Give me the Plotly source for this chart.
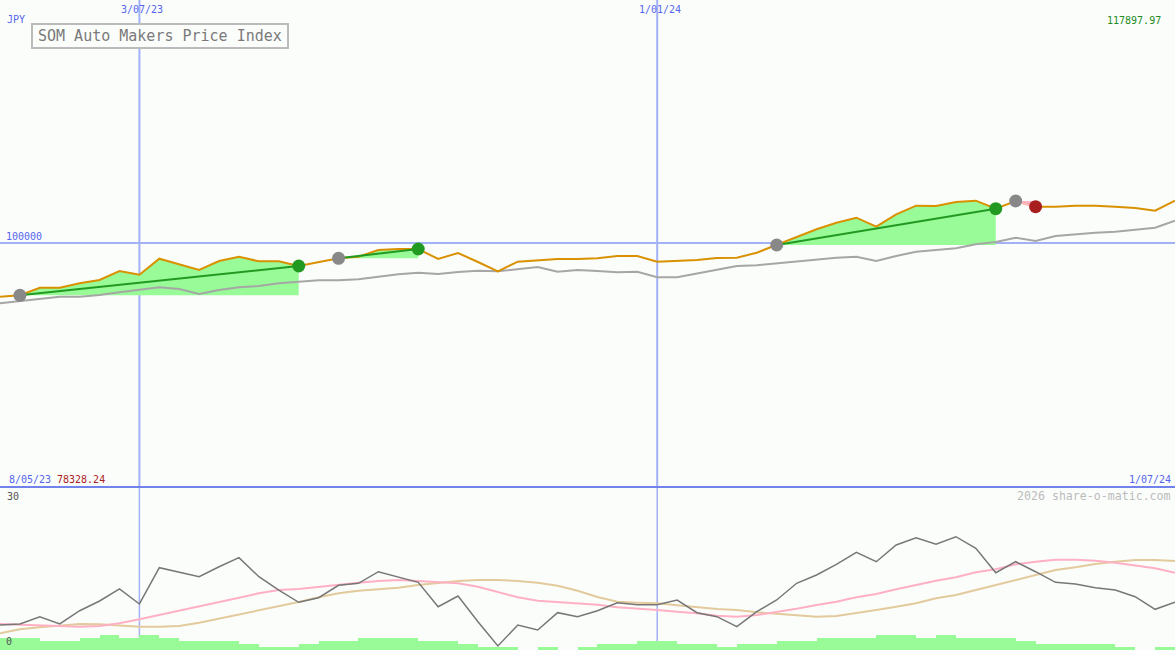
import pandas as pd
import plotly.graph_objects as go

W, H = 1175, 650
BG = "#FBFDFB"
BLUE_TXT = "#5566EE"
GRID = "#A3B1F7"
MONO = "DejaVu Sans Mono"

# ---------------- data ----------------
dates = list(pd.date_range("2023-05-15", periods=60, freq="7D"))

price = [95231, 95355, 96030, 96030, 96421, 96714, 97514, 97185, 98606, 98136,
         97603, 98402, 98784, 98375, 98375, 97958, 98286, 98642, 98784, 99379,
         99468, 99468, 98580, 99113, 98313, 97487, 98340, 98429, 98580, 98580,
         98642, 98846, 98846, 98340, 98429, 98491, 98668, 98695, 99139, 99823,
         100560, 101218, 101804, 102248, 101449, 102550, 103314, 103287, 103642, 103758,
         103047, 103731, 103225, 103225, 103314, 103314, 103225, 103109, 102870, 103758]

avg = [94645, 94849, 95089, 95231, 95231, 95382, 95622, 95826, 96066, 95915,
       95471, 95826, 96066, 96181, 96421, 96563, 96688, 96688, 96777, 97007,
       97221, 97363, 97247, 97425, 97540, 97487, 97665, 97869, 97451, 97603,
       97514, 97398, 97451, 96954, 96954, 97309, 97665, 97958, 98020, 98197,
       98340, 98553, 98695, 98784, 98402, 98846, 99228, 99379, 99530, 99885,
       100090, 100471, 100178, 100622, 100773, 100916, 101004, 101155, 101360, 101981]

trade_entry = [1, 17, 39, 51]
trade_exit = [15, 21, 50, 52]

osc_fast = [4.60, 4.79, 6.13, 4.79, 7.23, 9.02, 11.23, 8.47, 15.15, 14.30,
            13.49, 15.33, 16.99, 13.49, 11.04, 8.78, 9.63, 11.91, 12.28, 14.41,
            13.49, 12.46, 7.97, 9.94, 5.21, 0.74, 4.60, 3.68, 6.87, 6.13,
            7.23, 8.71, 8.34, 8.34, 9.20, 6.87, 6.13, 4.29, 7.05, 9.20,
            12.28, 13.80, 15.77, 17.98, 16.25, 19.33, 20.67, 19.45, 20.85, 18.72,
            14.23, 16.25, 14.41, 12.46, 12.15, 11.47, 11.04, 9.81, 7.49, 8.78]

osc_mid = [4.79, 4.69, 4.60, 4.42, 4.29, 4.42, 4.91, 5.65, 6.44, 7.23,
           7.97, 8.71, 9.63, 10.44, 11.04, 11.23, 11.65, 11.96, 12.39, 12.70,
           12.88, 12.70, 12.46, 12.28, 11.65, 10.73, 9.70, 9.07, 8.83, 8.47,
           8.34, 7.86, 7.67, 7.36, 7.05, 6.75, 6.31, 6.13, 6.44, 6.99,
           7.60, 8.28, 8.89, 9.70, 10.31, 11.17, 11.96, 12.75, 13.38, 14.30,
           14.85, 15.77, 16.25, 16.62, 16.62, 16.44, 16.07, 15.52, 15.04, 14.23]

osc_slow = [3.07, 3.81, 4.18, 4.42, 4.79, 4.73, 4.55, 4.29, 4.29, 4.42,
            5.02, 5.76, 6.57, 7.36, 8.10, 8.83, 9.70, 10.44, 10.91, 11.17,
            11.47, 11.96, 12.39, 12.70, 12.88, 12.88, 12.70, 12.39, 11.83, 10.91,
            9.75, 8.89, 8.71, 8.60, 8.23, 7.86, 7.55, 7.36, 6.94, 6.68,
            6.44, 6.13, 6.26, 6.75, 7.36, 7.97, 8.60, 9.52, 10.12, 11.04,
            11.96, 12.88, 13.93, 14.72, 15.22, 15.83, 16.25, 16.56, 16.56, 16.38]

volume_level = [4, 4, 3, 3, 4, 5, 4, 5, 4, 3,
                3, 3, 2, 1, 1, 2, 3, 3, 4, 4,
                4, 3, 3, 2, 1, 1, 0, 1, 0, 1,
                2, 2, 3, 3, 2, 2, 1, 2, 2, 3,
                3, 4, 4, 4, 5, 5, 4, 5, 4, 4,
                4, 3, 2, 2, 2, 2, 1, 0, 1]

grid_dates = ["2023-07-03", "2024-01-01"]
grid_labels = ["3/07/23", "1/01/24"]
grid_level = 100000
axis_top_label = "117897.97"
axis_bottom_label = "78328.24"
first_date_label = "8/05/23"
last_date_label = "1/07/24"
osc_max_label = "30"
osc_min_label = "0"

# ---------------- figure ----------------
fig = go.Figure()

# trade fills
for e, x_ in zip(trade_entry, trade_exit):
    win = price[x_] >= price[e]
    xs = dates[e:x_ + 1] + [dates[x_], dates[e]]
    ys = price[e:x_ + 1] + [price[e], price[e]]
    fig.add_trace(go.Scatter(x=xs, y=ys, mode="lines", fill="toself",
                             fillcolor="#98FB98" if win else "#FFB6C8",
                             line=dict(width=0), hoverinfo="skip", showlegend=False))

fig.add_trace(go.Scatter(x=dates, y=avg, mode="lines",
                         line=dict(color="#A6A6A6", width=2), showlegend=False))
fig.add_trace(go.Scatter(x=dates, y=price, mode="lines",
                         line=dict(color="#D99100", width=2), showlegend=False))

for e, x_ in zip(trade_entry, trade_exit):
    win = price[x_] >= price[e]
    fig.add_trace(go.Scatter(x=[dates[e], dates[x_]], y=[price[e], price[x_]], mode="lines",
                             line=dict(color="#229A22" if win else "#FFB6C8", width=2),
                             showlegend=False))
for e, x_ in zip(trade_entry, trade_exit):
    win = price[x_] >= price[e]
    fig.add_trace(go.Scatter(x=[dates[e]], y=[price[e]], mode="markers",
                             marker=dict(color="#888888", size=13), showlegend=False))
    fig.add_trace(go.Scatter(x=[dates[x_]], y=[price[x_]], mode="markers",
                             marker=dict(color="#229A22" if win else "#A81E1E", size=13),
                             showlegend=False))

# lower panel
fig.add_trace(go.Bar(x=dates[:len(volume_level)], y=volume_level, yaxis="y3",
                     offset=0, width=7 * 86400000,
                     marker=dict(color="#98FB98", line=dict(width=0)),
                     showlegend=False))
fig.add_trace(go.Scatter(x=dates, y=osc_slow, yaxis="y2", mode="lines",
                         line=dict(color="#E3CA9C", width=2), showlegend=False))
fig.add_trace(go.Scatter(x=dates, y=osc_mid, yaxis="y2", mode="lines",
                         line=dict(color="#FFB0C4", width=2), showlegend=False))
fig.add_trace(go.Scatter(x=dates, y=osc_fast, yaxis="y2", mode="lines",
                         line=dict(color="#777777", width=1.5), showlegend=False))

low_frac = (H - 487) / H


def px(xp):
    return xp / W


def py(yp):
    return 1 - yp / H


shapes = []
for d in grid_dates:
    shapes.append(dict(type="line", xref="x", yref="paper", x0=d, x1=d, y0=low_frac, y1=1,
                       line=dict(color=GRID, width=2), layer="below"))
    shapes.append(dict(type="line", xref="x", yref="paper", x0=d, x1=d, y0=0, y1=low_frac,
                       line=dict(color=GRID, width=1.5), layer="below"))
shapes.append(dict(type="line", xref="paper", yref="y", x0=0, x1=1, y0=grid_level, y1=grid_level,
                   line=dict(color=GRID, width=2), layer="below"))
shapes.append(dict(type="line", xref="paper", yref="paper", x0=0, x1=1, y0=low_frac, y1=low_frac,
                   line=dict(color="#7282EC", width=2), layer="above"))
shapes.append(dict(type="rect", xref="paper", yref="paper", x0=px(32), x1=px(288), y0=py(48), y1=py(24),
                   line=dict(color="#BBBBBB", width=2), fillcolor=BG, layer="above"))


def txt(text, xp, yp, color, size=10, anchor="left", **kw):
    d = dict(text=text, xref="paper", yref="paper", x=px(xp), y=py(yp), xanchor=anchor,
             yanchor="middle", showarrow=False, font=dict(family=MONO, size=size, color=color))
    d.update(kw)
    return d


ann = [
    txt("JPY", 5, 19, BLUE_TXT),
    txt(axis_top_label, 1163, 20, "#228B22", anchor="right"),
    txt("SOM Auto Makers Price Index", 160, 36.5, "#7A7A7A", size=15, anchor="center"),
    txt(first_date_label, 7, 479, BLUE_TXT),
    txt(axis_bottom_label, 55, 479, "#AA2222"),
    txt(last_date_label, 1173, 479, BLUE_TXT, anchor="right"),
    txt("2026 share-o-matic.com", 1173, 496, "#BBBBBB", size=11.6, anchor="right"),
    txt(osc_max_label, 5, 496, "#555555"),
    txt(osc_min_label, 4, 641, "#555555"),
]
for d, lab in zip(grid_dates, grid_labels):
    ann.append(dict(text=lab, xref="x", yref="paper", x=d, y=py(9.5), xanchor="center", yanchor="middle",
                    xshift=3, showarrow=False, font=dict(family=MONO, size=10, color=BLUE_TXT)))
ann.append(dict(text=str(grid_level), xref="paper", yref="y", x=px(4), y=grid_level, xanchor="left",
                yanchor="bottom", yshift=-1, showarrow=False,
                font=dict(family=MONO, size=10, color=BLUE_TXT)))

fig.update_layout(
    width=W, height=H, margin=dict(l=0, r=0, t=0, b=0),
    paper_bgcolor=BG, plot_bgcolor=BG, showlegend=False, bargap=0,
    xaxis=dict(type="date", range=[dates[0], dates[-1]], visible=False, domain=[0, 1], anchor="y"),
    yaxis=dict(domain=[low_frac, 1], range=[78328.24, 121583.6], visible=False),
    yaxis2=dict(domain=[0, low_frac], range=[0, 30], visible=False, anchor="x"),
    yaxis3=dict(overlaying="y2", range=[0, 54.3], visible=False, anchor="x"),
    shapes=shapes, annotations=ann,
)

fig.write_html("out.html", config={"displayModeBar": False},
               post_script="document.body.style.margin='0';document.body.style.overflow='hidden';")
